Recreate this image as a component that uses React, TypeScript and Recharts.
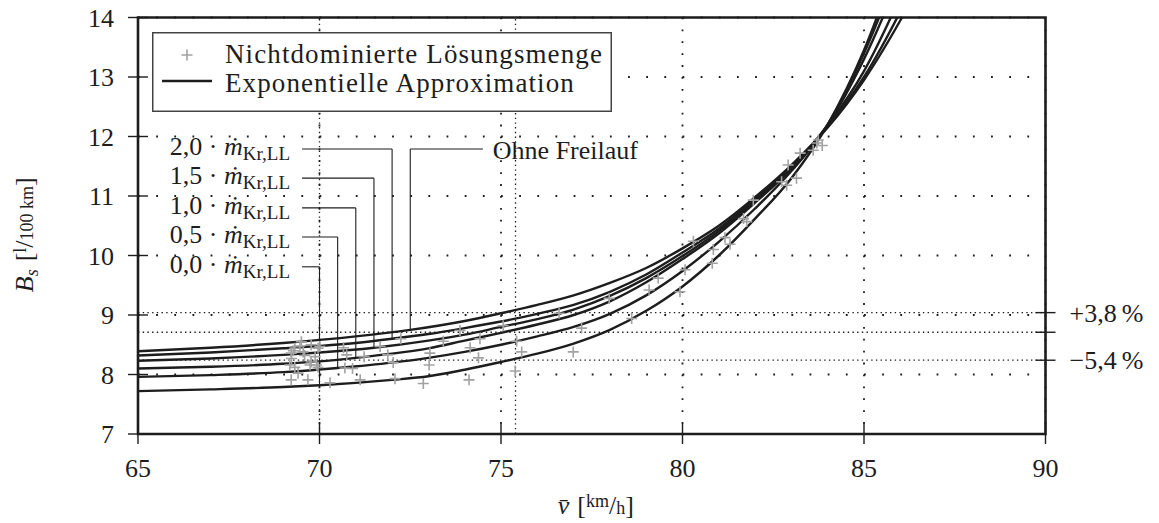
import React from 'react';
import {
  ComposedChart,
  Line,
  Scatter,
  XAxis,
  YAxis,
  CartesianGrid,
  ReferenceLine,
  ReferenceArea,
  Legend,
} from 'recharts';

const FONT = '"Liberation Serif", "DejaVu Serif", serif';
const INK = '#1d1d1d';
const MARK = '#a2a2a2';

const W = 1143;
const H = 523;

const xTicks = [65, 70, 75, 80, 85, 90];
const yTicks = [7, 8, 9, 10, 11, 12, 13, 14];

// consumption levels marked on the right edge
const levelValues = [9.04, 8.71, 8.24];
const levelLabels = ['+3,8\u2009%', '', '\u22125,4\u2009%'];

// speeds marked by dense dotted verticals
const speedMarks = [70, 75.4];

// non-dominated solutions [v, B_s]
const paretoSet: [number, number][] = [
  [69.18, 8.16], [69.22, 8.36], [69.22, 7.91], [69.28, 8.4], [69.23, 8.27],
  [69.32, 8.44], [69.32, 8.12], [69.41, 8.02], [69.46, 8.48], [69.5, 8.55],
  [69.55, 8.38], [69.59, 8.32], [69.68, 7.91], [69.74, 8.16], [69.77, 8.5],
  [69.77, 8.21], [69.88, 8.3], [69.92, 8.16], [69.96, 8.44], [69.96, 8.12],
  [70.01, 8.47], [70.29, 7.86], [70.66, 8.45], [70.75, 8.33], [70.7, 8.11],
  [70.91, 8.1], [71.12, 7.91], [71.23, 8.3], [71.67, 8.47], [71.88, 8.33],
  [72.03, 8.2], [72.08, 7.93], [72.24, 8.6], [72.86, 7.85], [73.04, 8.36],
  [73.02, 8.16], [73.41, 8.56], [73.87, 8.74], [74.15, 8.45], [74.38, 8.28],
  [74.42, 8.6], [74.12, 7.91], [75.06, 8.82], [75.39, 8.06], [75.57, 8.38],
  [75.43, 8.56], [76.6, 9.03], [76.99, 8.38], [77.22, 8.78], [77.98, 9.28],
  [78.6, 8.94], [79.08, 9.42], [79.33, 9.62], [79.93, 9.39], [80.07, 9.76],
  [80.3, 10.24], [80.82, 9.87], [80.85, 10.1], [81.17, 10.3], [81.31, 10.19],
  [81.68, 10.62], [81.77, 10.57], [81.95, 10.93], [82.73, 11.24], [82.87, 11.18],
  [82.91, 11.52], [83.14, 11.3], [83.24, 11.72], [83.6, 11.77], [83.7, 11.89],
  [83.74, 11.94], [83.85, 11.85],
];

// exponential approximations [v, B_s]
const fitOhne: [number, number][] = [
  [65, 8.39], [67, 8.45], [69, 8.53], [71, 8.64], [72.5, 8.75], [74, 8.9],
  [75, 9.03], [76, 9.17], [77, 9.33], [78, 9.54], [79, 9.79], [80, 10.12],
  [81, 10.5], [82, 10.98], [83, 11.52], [84, 12.15], [85, 12.95], [86, 13.95], [87, 15.1],
];
const fit20: [number, number][] = [
  [65, 8.32], [67, 8.37], [69, 8.44], [71, 8.53], [72, 8.6], [73, 8.68], [74, 8.78],
  [75, 8.89], [76, 9.02], [77, 9.17], [78, 9.39], [79, 9.68], [80, 10.05], [81, 10.45],
  [82, 10.95], [83, 11.5], [84, 12.17], [85, 13.0], [86, 14.1], [87, 15.4],
];
const fit15: [number, number][] = [
  [65, 8.23], [67, 8.27], [69, 8.33], [70, 8.37], [71.5, 8.45], [73, 8.57], [74, 8.67],
  [75, 8.8], [76, 8.93], [77, 9.09], [78, 9.32], [79, 9.62], [80, 9.99], [81, 10.41],
  [82, 10.92], [83, 11.48], [84, 12.19], [85, 13.1], [86, 14.35], [87, 15.8],
];
const fit10: [number, number][] = [
  [65, 8.1], [67, 8.13], [69, 8.18], [70, 8.22], [71, 8.28], [72, 8.35], [73, 8.44],
  [74, 8.57], [75, 8.7], [76, 8.84], [77, 9.0], [78, 9.23], [79, 9.55], [80, 9.94],
  [81, 10.37], [82, 10.89], [83, 11.46], [84, 12.2], [85, 13.3], [86, 14.7],
];
const fit05: [number, number][] = [
  [65, 7.96], [67, 7.99], [69, 8.04], [70.5, 8.11], [72, 8.2], [73, 8.28], [74, 8.38],
  [75, 8.5], [76, 8.64], [77, 8.8], [78, 9.02], [79, 9.33], [80, 9.74], [81, 10.23],
  [82, 10.79], [83, 11.42], [84, 12.2], [85, 13.4], [86, 14.9],
];
const fit00: [number, number][] = [
  [65, 7.72], [67, 7.75], [69, 7.79], [70, 7.82], [71, 7.86], [72, 7.91], [73, 7.97],
  [74, 8.08], [75, 8.21], [76, 8.35], [77, 8.52], [78, 8.75], [79, 9.07], [80, 9.48],
  [81, 10.0], [82, 10.62], [83, 11.3], [84, 12.2], [85, 13.45], [86, 15.1],
];

// leader annotations for the mass-flow factors
const factorTags = ['0,0', '0,5', '1,0', '1,5', '2,0'];
const factorFits = [fit00, fit05, fit10, fit15, fit20];
const factorLeaderV = [70, 70.5, 71, 71.5, 72];
const factorLabelB = [9.81, 10.31, 10.8, 11.3, 11.79];
const leaderStartV = 69.52;

const ohneTag = 'Ohne Freilauf';
const ohneLeaderV = 72.5;
const ohneLabelEndV = 74.5;
const ohneLabelB = 11.79;

const legendNames = ['Nichtdominierte Lösungsmenge', 'Exponentielle Approximation'];

const toPoints = (rows: [number, number][]) => rows.map(([x, y]) => ({ x, y }));
const valueAt = (rows: [number, number][], v: number) => {
  const hit = rows.find(([x]) => x === v);
  return hit ? hit[1] : rows[0][1];
};

const TICK = 10;
const GAP_Y = 14;
const GAP_X = 4;
const GAP_R = 14;

function LeftTick(props: any) {
  const { x, y, payload } = props;
  const axisX = x + TICK + GAP_Y;
  return (
    <g>
      <line x1={axisX - TICK} x2={axisX + TICK} y1={y} y2={y} stroke={INK} strokeWidth={1.4} />
      <text x={x} y={y + 9} textAnchor="end" fontFamily={FONT} fontSize={26} fill={INK}>
        {payload.value}
      </text>
    </g>
  );
}

function BottomTick(props: any) {
  const { x, y, payload } = props;
  const axisY = y - TICK - GAP_X;
  return (
    <g>
      <line x1={x} x2={x} y1={axisY - TICK} y2={axisY + TICK} stroke={INK} strokeWidth={1.4} />
      <text x={x} y={axisY + 43} textAnchor="middle" fontFamily={FONT} fontSize={26} fill={INK}>
        {payload.value}
      </text>
    </g>
  );
}

function RightTick(props: any) {
  const { x, y, payload } = props;
  const axisX = x - TICK - GAP_R;
  const idx = levelValues.indexOf(payload.value);
  const label = idx >= 0 ? levelLabels[idx] : '';
  return (
    <g>
      <line x1={axisX - TICK} x2={axisX + TICK} y1={y} y2={y} stroke={INK} strokeWidth={1.4} />
      {label ? (
        <text x={x} y={y + 9} textAnchor="start" fontFamily={FONT} fontSize={26} fill={INK}>
          {label}
        </text>
      ) : null}
    </g>
  );
}

function Cross(props: any) {
  const { cx, cy } = props;
  const r = 5.5;
  return (
    <path
      d={`M${cx - r},${cy}H${cx + r}M${cx},${cy - r}V${cy + r}`}
      stroke={MARK}
      strokeWidth={1.6}
      fill="none"
    />
  );
}

const renderYLabel = (props: any) => {
  const vb = props.viewBox;
  const cx = vb.x + vb.width - 105;
  const cy = vb.y + vb.height / 2 + 9;
  return (
    <text
      transform={`rotate(-90 ${cx} ${cy})`}
      x={cx}
      y={cy}
      textAnchor="middle"
      fontFamily={FONT}
      fontSize={26}
      fill={INK}
    >
      <tspan fontStyle="italic">B</tspan>
      <tspan fontStyle="italic" fontSize={18} dy={5}>s</tspan>
      <tspan dy={-5} dx={8}>[</tspan>
      <tspan fontSize={18} dy={-7}>l</tspan>
      <tspan dy={7}>/</tspan>
      <tspan fontSize={18}>100 km</tspan>
      <tspan>]</tspan>
    </text>
  );
};

const renderXLabel = (props: any) => {
  const vb = props.viewBox;
  const cx = vb.x + vb.width / 2 + 4;
  const by = vb.y + 80;
  return (
    <text x={cx} y={by} textAnchor="middle" fontFamily={FONT} fontSize={26} fill={INK}>
      <tspan fontStyle="italic">{'v\u0304'}</tspan>
      <tspan dx={8}>[</tspan>
      <tspan fontSize={18} dy={-7}>km</tspan>
      <tspan dy={7}>/</tspan>
      <tspan fontSize={18}>h</tspan>
      <tspan>]</tspan>
    </text>
  );
};

const factorLabel = (tag: string) => (props: any) => {
  const vb = props.viewBox;
  return (
    <text x={vb.x - 12} y={vb.y + 6} textAnchor="end" fontFamily={FONT} fontSize={26} fill={INK}>
      {`${tag} \u00b7 `}
      <tspan fontStyle="italic">{'\u1e41'}</tspan>
      <tspan fontSize={19} dy={5}>Kr,LL</tspan>
    </text>
  );
};

const ohneLabel = (props: any) => {
  const vb = props.viewBox;
  return (
    <text x={vb.x + vb.width + 10} y={vb.y + 10} textAnchor="start" fontFamily={FONT} fontSize={26} fill={INK}>
      {ohneTag}
    </text>
  );
};

function LegendBox() {
  return (
    <svg width={460} height={80} style={{ display: 'block' }}>
      <rect x={0.75} y={0.75} width={458.5} height={78.5} fill="#fff" stroke="#444" strokeWidth={1.5} />
      <path d="M29.5,23H40.5M35,17.5V28.5" stroke={MARK} strokeWidth={1.6} />
      <line x1={10} x2={60} y1={49} y2={49} stroke={INK} strokeWidth={2.4} />
      <text x={73} y={31} fontFamily={FONT} fontSize={27} letterSpacing={1.1} fill={INK}>
        {legendNames[0]}
      </text>
      <text x={73} y={60} fontFamily={FONT} fontSize={27} letterSpacing={1.1} fill={INK}>
        {legendNames[1]}
      </text>
    </svg>
  );
}

const fits = [fitOhne, fit20, fit15, fit10, fit05, fit00];

export default function App() {
  return (
    <div style={{ position: 'absolute', left: 8, top: 0, width: W, height: H }}>
      <ComposedChart
        width={W}
        height={H}
        margin={{ top: 17.5, left: 70, right: 5.5, bottom: 49 }}
        style={{ background: '#fff' }}
      >
        <CartesianGrid
          yAxisId="l"
          vertical={false}
          stroke={INK}
          strokeWidth={1.8}
          strokeDasharray="1.8 16.35"
        />
        <CartesianGrid
          yAxisId="l"
          horizontal={false}
          stroke={INK}
          strokeWidth={1.8}
          strokeDasharray="1.8 10.1"
        />
        <XAxis
          type="number"
          dataKey="x"
          domain={[65, 90]}
          ticks={xTicks}
          interval={0}
          height={40}
          axisLine={false}
          tickLine={false}
          tickSize={TICK}
          tickMargin={GAP_X}
          tick={<BottomTick />}
          label={renderXLabel}
        />
        <YAxis
          yAxisId="l"
          type="number"
          dataKey="y"
          domain={[7, 14]}
          allowDataOverflow
          ticks={yTicks}
          interval={0}
          width={60}
          axisLine={false}
          tickLine={false}
          tickSize={TICK}
          tickMargin={GAP_Y}
          tick={<LeftTick />}
          label={renderYLabel}
        />
        <YAxis
          yAxisId="r"
          orientation="right"
          type="number"
          domain={[7, 14]}
          allowDataOverflow
          ticks={levelValues}
          interval={0}
          width={100}
          axisLine={false}
          tickLine={false}
          tickSize={TICK}
          tickMargin={GAP_R}
          tick={<RightTick />}
        />

        {levelValues.map((v) => (
          <ReferenceLine
            key={`lvl-${v}`}
            yAxisId="l"
            y={v}
            stroke={INK}
            strokeWidth={1.3}
            strokeDasharray="1.4 3.3"
          />
        ))}
        {speedMarks.map((v) => (
          <ReferenceLine
            key={`spd-${v}`}
            yAxisId="l"
            x={v}
            stroke={INK}
            strokeWidth={1.3}
            strokeDasharray="1.4 3.3"
          />
        ))}

        <Scatter
          yAxisId="l"
          name={legendNames[0]}
          data={paretoSet.map(([x, y]) => ({ x, y }))}
          shape={<Cross />}
          isAnimationActive={false}
          legendType="none"
        />

        {fits.map((rows, i) => (
          <Line
            key={`fit-${i}`}
            yAxisId="l"
            type="monotone"
            data={toPoints(rows)}
            dataKey="y"
            stroke={INK}
            strokeWidth={2.4}
            dot={false}
            activeDot={false}
            isAnimationActive={false}
            legendType="none"
          />
        ))}

        {factorTags.map((tag, i) => (
          <ReferenceLine
            key={`lh-${tag}`}
            yAxisId="l"
            segment={[
              { x: leaderStartV, y: factorLabelB[i] },
              { x: factorLeaderV[i], y: factorLabelB[i] },
            ]}
            stroke={INK}
            strokeWidth={1.1}
            label={factorLabel(tag)}
          />
        ))}
        {factorTags.map((tag, i) => (
          <ReferenceLine
            key={`lv-${tag}`}
            yAxisId="l"
            segment={[
              { x: factorLeaderV[i], y: factorLabelB[i] },
              { x: factorLeaderV[i], y: valueAt(factorFits[i], factorLeaderV[i]) },
            ]}
            stroke={INK}
            strokeWidth={1.1}
          />
        ))}
        <ReferenceLine
          yAxisId="l"
          segment={[
            { x: ohneLeaderV, y: ohneLabelB },
            { x: ohneLabelEndV, y: ohneLabelB },
          ]}
          stroke={INK}
          strokeWidth={1.1}
          label={ohneLabel}
        />
        <ReferenceLine
          yAxisId="l"
          segment={[
            { x: ohneLeaderV, y: ohneLabelB },
            { x: ohneLeaderV, y: valueAt(fitOhne, ohneLeaderV) },
          ]}
          stroke={INK}
          strokeWidth={1.1}
        />

        <ReferenceArea
          yAxisId="l"
          x1={65}
          x2={90}
          y1={7}
          y2={14}
          fill="none"
          stroke={INK}
          strokeWidth={2.6}
          ifOverflow="visible"
        />

        <Legend
          layout="horizontal"
          verticalAlign="middle"
          align="center"
          wrapperStyle={{ left: 144, top: 32, width: 460, height: 80 }}
          content={() => <LegendBox />}
        />
      </ComposedChart>
    </div>
  );
}
